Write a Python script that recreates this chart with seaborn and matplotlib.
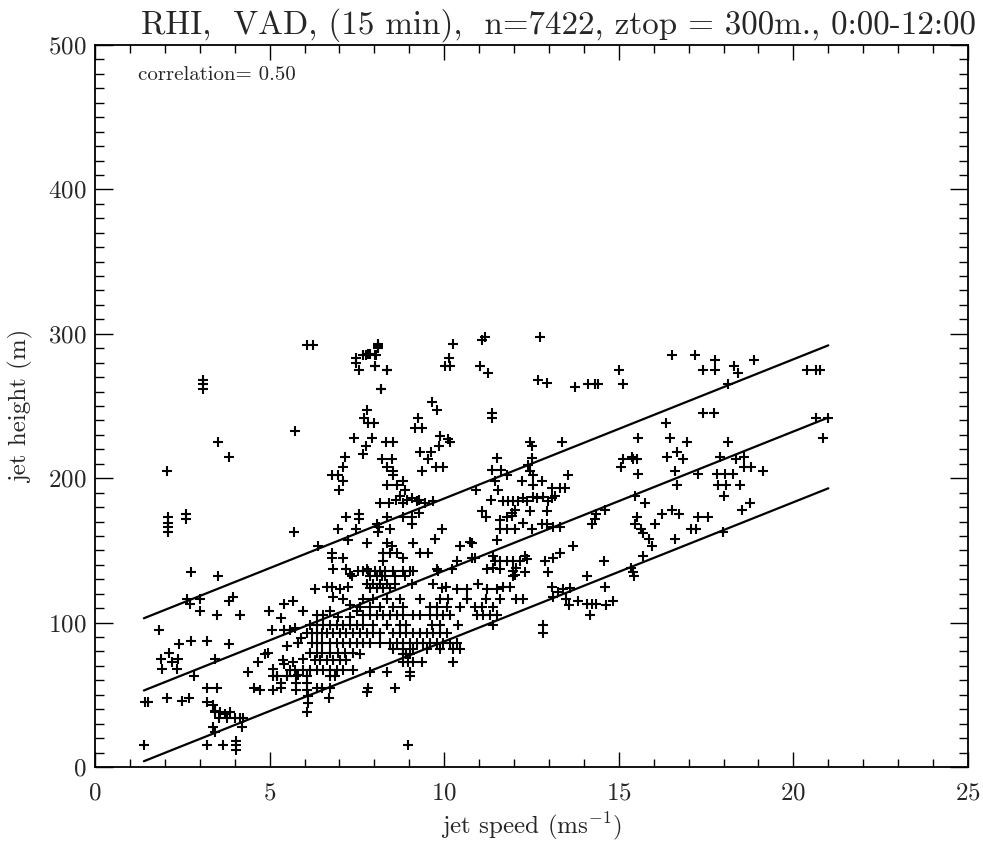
import matplotlib
matplotlib.use("Agg")
import matplotlib.pyplot as plt
import seaborn as sns
import pandas as pd
from matplotlib.ticker import MultipleLocator

# ---------------- data ----------------
# sparse / isolated points (jet speed m/s, jet height m)
sparse_speed = [
    6.06, 6.25, 8.09, 8.09, 7.47, 7.76, 7.87, 8.04, 7.47, 7.57, 8.02, 8.35, 8.18,
    3.08, 3.08, 3.08, 3.53, 3.85, 5.73, 2.05, 7.41, 7.16, 7.11, 7.09, 6.99, 6.78, 6.97,
    2.10, 2.10, 2.10, 2.10, 2.60, 2.60, 5.70, 7.18, 7.57, 7.57, 6.97, 7.47, 7.25, 6.39,
    6.78, 6.78, 7.11, 6.82, 7.18, 7.30, 7.35, 7.54, 7.78, 2.75, 3.53,
    6.30, 6.63, 6.78, 7.03, 7.25,
    2.64, 2.72, 3.00, 3.02, 3.50, 3.85, 3.94, 4.15, 1.84,
    4.99, 5.32, 5.41, 5.66, 5.96, 5.06, 5.41, 5.58, 5.73,
    2.41, 2.75, 3.22, 3.85, 1.88, 2.13, 2.20, 2.39, 1.91, 2.34, 2.84, 3.44, 4.39, 4.68, 4.96,
    4.87, 5.11, 5.20, 5.39, 5.41, 5.68, 5.96, 5.49, 5.82, 5.49, 5.82, 5.89,
    6.35, 6.54, 6.73, 6.97, 7.30, 7.49, 6.82, 7.11, 7.30,
    3.20, 3.50, 4.55, 4.72, 5.09, 5.34, 5.34, 5.77, 5.77, 6.06, 6.06, 6.35, 6.49, 6.73,
    6.10, 6.10, 6.06, 6.71, 1.43, 1.53, 2.05, 2.48, 2.70, 3.22, 3.39, 3.44,
    3.44, 3.58, 3.72, 3.87, 4.01, 4.15, 4.25, 3.56, 3.77, 3.39, 3.44, 4.20,
    1.40, 3.22, 3.67, 4.04, 4.04, 4.04,
]
sparse_height = [
    292, 292, 292, 290, 283, 285, 286, 285, 280, 275, 278, 275, 262,
    268, 265, 262, 225, 215, 233, 205, 228, 215, 208, 198, 192, 202, 202,
    173, 169, 166, 163, 175, 172, 163, 173, 175, 172, 165, 165, 157, 153,
    148, 145, 145, 137, 137, 134, 132, 136, 137, 135, 132,
    123, 125, 125, 123, 125,
    116, 113, 116, 108, 105, 115, 118, 105, 95,
    108, 103, 113, 115, 108, 95, 95, 95, 96,
    85, 87, 87, 85, 75, 79, 73, 75, 68, 68, 63, 75, 66, 73, 79,
    78, 68, 63, 74, 71, 73, 75, 63, 64, 84, 86, 89,
    105, 105, 108, 104, 104, 108, 118, 116, 112,
    55, 55, 55, 53, 53, 55, 58, 58, 53, 58, 53, 55, 55, 55,
    49, 44, 38, 48, 45, 45, 48, 46, 48, 45, 43, 39,
    38, 38, 37, 38, 34, 34, 34, 34, 34, 28, 24, 28,
    15, 15, 15, 18, 15, 12,
]

# dense core cluster, left part (rows of equal height)
core_left_speed = [
    6.15, 6.35, 6.54, 6.73, 6.92, 7.11, 7.30, 7.49,
    6.06, 6.20, 6.35, 6.49, 6.63, 6.82, 7.01, 7.20, 7.39,
    6.20, 6.35, 6.49, 6.73, 6.92, 7.11, 7.30, 7.49,
    6.15, 6.35, 6.49, 6.73, 6.97, 7.16, 7.39,
    6.30, 6.44, 6.63, 6.82, 7.01, 7.20,
    5.58, 5.73, 5.96, 6.15, 6.35, 6.54, 6.73, 6.92, 7.11, 7.39,
    5.10, 5.20, 5.49, 5.77, 6.06, 6.73, 6.87,
]
core_left_height = [
    98, 98, 98, 98, 98, 98, 98, 98,
    93, 93, 93, 93, 93, 93, 93, 93, 93,
    86, 86, 86, 86, 86, 86, 86, 86,
    79, 79, 79, 79, 79, 79, 79,
    74, 74, 74, 74, 74, 74,
    67, 67, 67, 67, 67, 67, 67, 67, 67, 67,
    63, 63, 63, 63, 63, 63, 63,
]

# middle part (7.5 - 14.2 m/s)
mid_speed = [
    8.11, 8.11, 7.68, 7.83, 8.02, 8.02, 8.35, 8.18,
    7.78, 7.70, 7.83, 7.99, 7.92, 7.76, 7.67, 8.33, 8.54,
    8.21, 8.50, 8.35, 8.54, 8.54, 8.35, 8.66, 8.83, 8.88, 8.73,
    8.16, 8.43, 8.62, 8.83, 8.94, 9.07, 9.23, 9.29, 9.45, 9.69,
    9.29, 9.07, 8.81, 8.35, 8.08, 8.14, 8.45, 8.11, 9.07, 9.93,
    7.78, 8.35, 8.50, 9.10, 9.74, 8.26, 8.45, 8.64, 8.83, 8.26, 9.31, 9.55,
    9.83, 9.69, 10.05, 9.93, 10.36, 10.64, 10.98, 11.22, 11.50, 11.69, 11.88,
    10.36, 10.79, 10.88, 10.45, 10.74, 10.79, 10.21, 9.78, 11.52,
    11.39, 11.45, 11.60, 11.79, 11.98, 12.17, 12.31,
    11.22, 11.40, 11.60, 11.98, 12.03, 11.98, 12.07, 12.31, 12.36,
    11.60, 11.60, 11.79, 12.03, 12.26, 12.50, 12.79, 12.93, 13.12, 13.31,
    11.79, 11.93, 12.03, 11.93,
    11.69, 11.83, 11.98, 12.12, 12.26, 12.36, 12.55, 12.65, 12.84, 12.98, 13.08, 13.17,
    12.46, 12.93, 11.07, 11.20, 11.34, 10.91, 11.55,
    11.36, 11.64, 11.79, 11.45, 12.22, 12.55, 12.79, 13.08, 13.31, 13.46, 13.55,
    12.47, 12.50, 12.50, 12.41, 12.46, 12.55, 13.36, 11.50, 11.36, 11.36,
    9.26, 9.16, 9.35, 9.64, 9.78, 9.88, 10.17, 9.86, 10.12,
    9.31, 9.61, 9.55, 9.76, 9.97, 9.35,
    10.26, 11.07, 11.17, 12.74, 10.15, 10.02, 10.17, 11.02, 11.26, 12.69, 12.93,
    13.74, 14.12, 14.32,
    12.84, 12.84, 13.12, 13.27, 13.41, 13.60, 13.84, 14.08, 14.22, 14.36, 14.17, 14.08,
    13.58, 13.50, 13.70, 13.31, 13.12, 12.88, 12.98, 13.08, 14.32, 14.22, 14.35, 8.97,
]
mid_height = [
    293, 291, 285, 286, 285, 278, 275, 262,
    247, 242, 238, 238, 228, 222, 217, 225, 225,
    213, 213, 208, 205, 202, 195, 195, 198, 192, 188,
    183, 183, 185, 183, 185, 186, 184, 185, 183, 184,
    176, 173, 173, 173, 168, 166, 165, 163, 168, 165,
    155, 155, 153, 155, 158, 148, 148, 148, 145, 143, 148, 148,
    136, 127, 125, 124, 123, 123, 127, 123, 123, 125, 125,
    143, 145, 145, 153, 156, 155, 137, 137, 157,
    146, 143, 143, 143, 143, 143, 146,
    137, 138, 137, 136, 133, 132, 138, 135, 144,
    171, 165, 165, 165, 169, 165, 168, 168, 166, 166,
    173, 176, 178, 174,
    184, 184, 184, 184, 186, 184, 187, 186, 187, 184, 186, 188,
    177, 177, 177, 173, 185, 192, 192,
    206, 206, 202, 198, 198, 195, 198, 193, 193, 193, 202,
    225, 222, 214, 209, 205, 202, 225, 214, 245, 242,
    242, 235, 235, 253, 247, 229, 225, 222, 227,
    218, 218, 213, 208, 208, 205,
    293, 296, 298, 298, 283, 278, 278, 278, 273, 268, 266,
    263, 265, 265,
    98, 93, 118, 121, 123, 124, 115, 113, 113, 113, 105, 132,
    112, 116, 153, 148, 145, 143, 135, 125, 172, 168, 175, 15,
]

# dense core cluster, middle part (rows of equal height)
core_mid_speed = [
    7.68, 7.83, 8.02, 8.16, 8.30, 8.54, 8.83, 9.02, 9.12,
    7.88, 8.07, 8.21, 8.30, 8.59, 8.88,
    7.78, 7.97, 8.16, 8.35, 8.59, 9.07,
    7.88, 8.07, 8.26, 8.45,
    7.68, 7.97, 8.35, 8.73, 9.31, 9.88, 10.12, 10.64, 11.21, 11.60, 12.07, 12.26,
    7.59, 7.88, 8.16, 8.54, 8.83, 9.59, 9.78, 10.07, 10.45, 10.88, 11.07, 11.41,
    7.68, 7.88, 8.07, 8.26, 8.45, 8.64, 8.83, 9.12, 9.31, 9.59, 9.78, 9.97, 10.17,
    10.93, 11.12, 11.31, 11.50,
    7.68, 7.97, 8.35, 8.73, 8.92, 9.64, 9.88, 10.40, 11.41,
    7.59, 7.78, 7.97, 8.16, 8.54, 8.73, 8.92, 9.12, 9.31, 9.50, 9.69, 9.88, 10.07,
    7.68, 7.88, 8.16, 8.45, 8.64, 8.83, 9.02, 9.21, 9.40, 9.59, 9.78, 9.97, 10.17, 10.36,
    8.54, 8.83, 9.12, 9.50, 9.88, 10.26, 10.45,
    7.59, 8.83, 8.92, 9.02,
    8.83, 8.97, 9.12, 9.35, 10.26,
    7.88, 8.35, 9.02, 9.02, 7.83, 8.59, 7.78,
]
core_mid_height = [
    136, 136, 136, 136, 136, 136, 136, 136, 136,
    132, 132, 132, 132, 132, 132,
    127, 127, 127, 127, 127, 127,
    124, 124, 124, 124,
    116, 116, 116, 116, 116, 116, 116, 116, 116, 116, 116, 116,
    111, 111, 111, 111, 111, 111, 111, 111, 111, 111, 111, 111,
    105, 105, 105, 105, 105, 105, 105, 105, 105, 105, 105, 105, 105,
    105, 105, 105, 105,
    98, 98, 98, 98, 98, 98, 98, 98, 98,
    93, 93, 93, 93, 93, 93, 93, 93, 93, 93, 93, 93, 93,
    86, 86, 86, 86, 86, 86, 86, 86, 86, 86, 86, 86, 86, 86,
    82, 82, 82, 82, 82, 82, 82,
    78, 78, 78, 78,
    73, 73, 73, 73, 73,
    66, 66, 66, 63, 55, 55, 52,
]

# right part (> 14.2 m/s)
right_speed = [
    16.51, 17.18, 17.75, 17.75, 17.42, 18.30, 18.42, 18.87,
    15.01, 15.13, 14.41, 18.14, 20.40, 20.66, 20.76,
    17.42, 17.73, 16.35, 15.56, 16.47, 16.94, 18.14,
    20.66, 21.00, 20.85,
    15.13, 15.37, 15.42, 15.51, 15.05, 15.56,
    16.37, 16.67, 16.85, 16.61,
    17.90, 18.35, 18.58, 18.58, 18.80, 19.12,
    17.28, 17.80, 18.04, 18.28, 16.67,
    17.85, 18.07, 18.47, 18.01, 15.46, 15.75,
    14.60, 15.51, 15.46, 16.23, 16.51, 16.73, 17.28, 17.56,
    16.04, 17.08, 17.21, 15.65, 15.70, 15.87, 15.94, 16.61,
    18.52, 18.75, 17.97, 15.70, 14.58, 15.34, 15.42, 15.43, 14.60,
    14.63, 14.82,
]
right_height = [
    285, 285, 282, 275, 275, 278, 273, 282,
    275, 265, 265, 265, 275, 275, 275,
    245, 245, 238, 228, 228, 225, 225,
    242, 242, 228,
    213, 215, 213, 213, 208, 203,
    215, 218, 213, 205,
    215, 213, 215, 208, 208, 205,
    203, 203, 203, 203, 195,
    195, 195, 195, 188, 188, 183,
    178, 173, 168, 175, 178, 175, 173, 173,
    168, 165, 165, 165, 162, 158, 153, 158,
    178, 183, 163, 146, 143, 138, 135, 132, 125,
    112, 115,
]

# least-squares line and +/- one spread, endpoints
line_speed = [1.4, 21.0]
fit_mid = [53, 242]
fit_upper = [103, 292]
fit_lower = [4, 193]

title_text = "RHI,  VAD, (15 min),  n=7422, ztop = 300m., 0:00-12:00"
corr_text = "correlation= 0.50"

# ---------------- build and draw ----------------
df = pd.DataFrame({
    "speed": sparse_speed + core_left_speed + mid_speed + core_mid_speed + right_speed,
    "height": sparse_height + core_left_height + mid_height + core_mid_height + right_height,
})
lines = pd.DataFrame({
    "speed": line_speed * 3,
    "height": fit_upper + fit_mid + fit_lower,
    "which": ["upper"] * 2 + ["mid"] * 2 + ["lower"] * 2,
})

sns.set_style("ticks")
plt.rcParams["font.family"] = ["cmr10", "DejaVu Serif"]
plt.rcParams["mathtext.fontset"] = "cm"
plt.rcParams["axes.formatter.use_mathtext"] = True
plt.rcParams["axes.unicode_minus"] = False

fig = plt.figure(figsize=(9.83, 8.44), dpi=100)
ax = fig.add_axes([95 / 983, 1 - 767 / 844, 873 / 983, 722 / 844])

sns.scatterplot(data=df, x="speed", y="height", marker="+", color="black",
                s=55, linewidth=1.5, ax=ax, legend=False)
sns.lineplot(data=lines, x="speed", y="height", units="which", estimator=None,
             color="black", linewidth=1.6, ax=ax, legend=False)

ax.set_xlim(0, 25)
ax.set_ylim(0, 500)
ax.xaxis.set_major_locator(MultipleLocator(5))
ax.xaxis.set_minor_locator(MultipleLocator(1))
ax.yaxis.set_major_locator(MultipleLocator(100))
ax.yaxis.set_minor_locator(MultipleLocator(10))
ax.tick_params(axis="both", which="both", direction="in", top=True, right=True,
               color="black", width=1.0)
ax.tick_params(axis="x", which="major", length=11, labelsize=18, pad=11)
ax.tick_params(axis="x", which="minor", length=5.5)
ax.tick_params(axis="y", which="major", length=13, labelsize=18, pad=6)
ax.tick_params(axis="y", which="minor", length=6.5)
for sp in ax.spines.values():
    sp.set_linewidth(1.3)
    sp.set_color("black")

fig.canvas.draw()
ylabels = ax.get_yticklabels()
ylabels[0].set_va("bottom")
ylabels[-1].set_va("top")

ax.set_xlabel("jet speed (ms$^{-1}$)", fontsize=18, labelpad=4)
ax.set_ylabel("jet height (m)", fontsize=18, labelpad=10)
ax.text(0.049, 0.958, corr_text, transform=ax.transAxes, fontsize=15,
        ha="left", va="center")
fig.text(0.568, 0.99, title_text, ha="center", va="top", fontsize=23.8)

fig.savefig("out.png", dpi=100)
